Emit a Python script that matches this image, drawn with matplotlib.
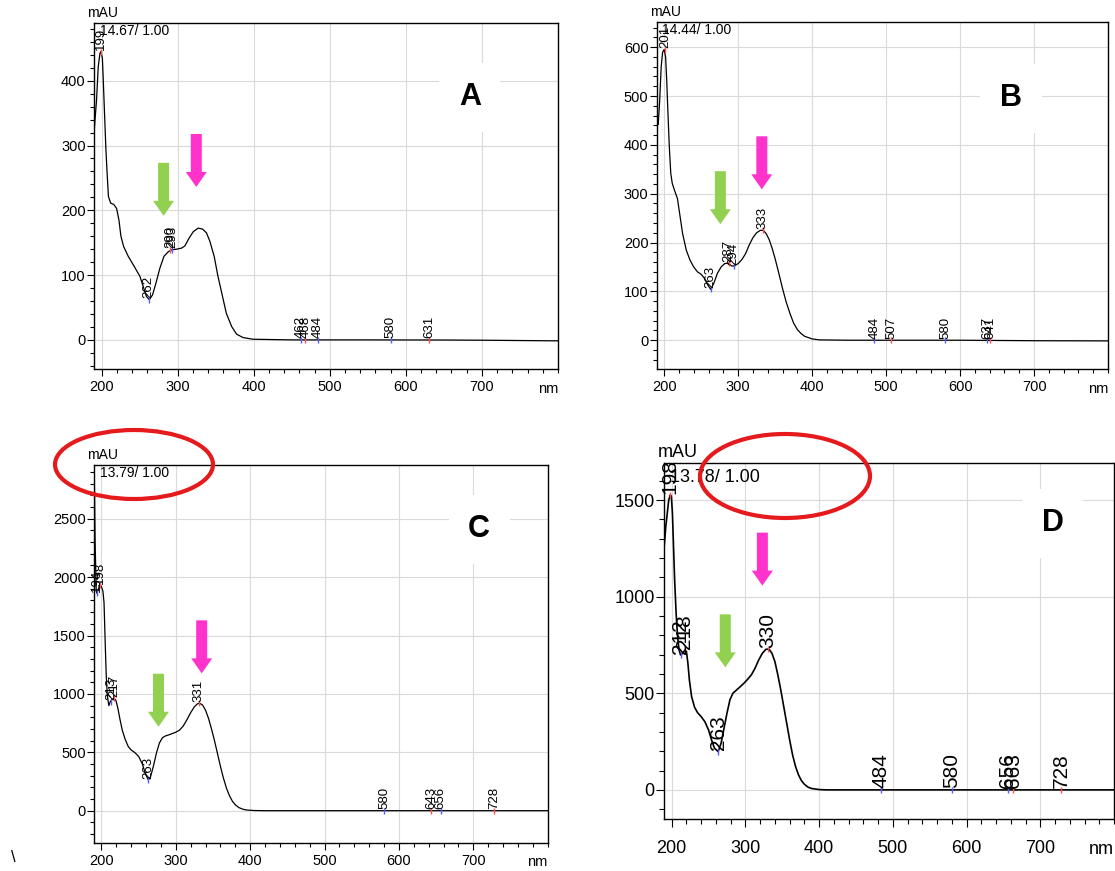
import numpy as np
import matplotlib.pyplot as plt
import matplotlib.transforms as mtransforms
from matplotlib.patches import Polygon, Ellipse
from matplotlib.ticker import MultipleLocator

plt.rcParams['font.family'] = ['Liberation Sans', 'DejaVu Sans']

# ---- spectrum A (14.67 min) ----
wl_a = [190, 193.4, 195.6, 197.8, 199, 201, 202, 204, 205.7, 207.5, 209, 212, 216,
        219.7, 222.8, 225.4, 229, 235, 241.6, 247, 250.4, 254.8, 259, 262.7, 267,
        271.4, 276.7, 282, 287.6, 292, 298.6, 305, 309.5, 315, 320.5, 327, 332.8,
        338, 342.4, 348, 353, 359, 364, 371, 377.5, 386, 399, 450, 550, 650, 700,
        750, 800]
au_a = [319, 371, 422, 442, 445, 435, 407, 345, 293, 252, 221, 211, 209, 203, 185,
        160, 144, 129, 116, 105, 98, 82, 67, 62, 69.5, 87.5, 111, 129, 136, 139, 140,
        141.6, 145, 157, 167, 172.5, 171, 165, 152, 129, 98, 67, 41, 20.6, 8.8, 3.6,
        1, 0, 0, -0.2, -0.5, -1, -1.5]
pk_a = [199, 262, 290, 293, 462, 468, 484, 580, 631]
pky_a = [445, 62, 139, 139, 0, 0, 0, 0, 0]
pkmax_a = [1, 0, 1, 0, 0, 1, 0, 0, 1]

# ---- spectrum B (14.44 min) ----
wl_b = [190, 191, 192, 194, 196, 198, 200, 202, 203.5, 205, 207, 209, 211, 214, 218,
        221, 225, 230, 235, 240, 245, 250, 255, 259, 263, 267, 272, 277, 282, 287,
        291, 295, 300, 305, 310, 315, 320, 325, 330, 334, 338, 342, 346, 350, 355,
        360, 365, 370, 375, 380, 385, 390, 400, 410, 450, 600, 650, 700, 800]
au_b = [471, 450, 442, 491, 560, 590, 595, 580, 532, 471, 396, 341, 321, 307, 290,
        259, 218, 184, 164, 150, 140, 135, 126, 113, 104, 116, 137, 150, 157, 158,
        152, 152, 157, 165, 177, 195, 210, 220, 225, 225, 218, 206, 188, 167, 137,
        106, 78, 55, 35, 22, 13.7, 8, 2.7, 0.7, 0, 0, -0.5, -1, -1.4]
pk_b = [201, 263, 287, 294, 333, 484, 507, 580, 637, 641]
pky_b = [595, 104, 158, 151, 225, 0, 0, 0, 0, 0]
pkmax_b = [1, 0, 1, 0, 1, 0, 1, 0, 0, 1]

# ---- spectrum C (13.79 min) ----
wl_c = [190, 191.5, 193, 194, 196, 198, 200, 202, 203.5, 205, 206.5, 208, 210, 212,
        214.5, 217, 219.5, 222, 225, 228, 232, 236, 240, 245, 250, 255, 259, 263,
        266, 270, 274, 278, 282, 286, 290, 295, 300, 305, 310, 315, 320, 325, 329,
        332, 336, 340, 344, 348, 352, 356, 360, 364, 368, 372, 376, 380, 385, 390,
        395, 405, 420, 800]
au_c = [3100, 2300, 1880, 1861, 1900, 1932, 1920, 1880, 1780, 1450, 1150, 980, 900,
        935, 955, 962, 945, 880, 780, 690, 610, 550, 520, 497, 465, 400, 320, 263,
        290, 385, 495, 580, 625, 640, 648, 660, 672, 690, 725, 780, 840, 890, 915,
        920, 905, 860, 790, 700, 600, 490, 380, 280, 195, 130, 82, 50, 26, 13, 6,
        1.5, 0, 0]
pk_c = [194, 198, 213, 217, 263, 331, 580, 643, 656, 728]
pky_c = [1861, 1932, 935, 962, 263, 920, 0, 0, 0, 0]
pkmax_c = [0, 1, 0, 1, 0, 1, 0, 1, 0, 1]

# ---- spectrum D (13.78 min) ----
wl_d = [190, 192, 194, 196, 198, 199.5, 201, 202.5, 204, 206, 208, 210, 212, 215,
        218, 220, 222, 224, 227, 231, 235, 240, 245, 250, 254, 258, 263, 267, 271,
        275, 279, 283, 288, 293, 298, 303, 308, 313, 318, 323, 328, 332, 336, 340,
        344, 348, 352, 356, 360, 364, 368, 372, 376, 380, 385, 390, 400, 410, 800]
au_d = [1267, 1362, 1431, 1500, 1526, 1521, 1431, 1259, 1086, 914, 793, 724, 698,
        707, 724, 716, 655, 569, 483, 428, 400, 379, 353, 310, 259, 216, 198, 241,
        319, 397, 466, 500, 517, 534, 552, 572, 595, 629, 672, 707, 728, 728, 707,
        664, 595, 517, 431, 345, 259, 181, 121, 78, 48, 29, 14, 7, 1.7, 0, 0]
pk_d = [198, 212, 218, 263, 330, 484, 580, 656, 663, 728]
pky_d = [1526, 698, 724, 198, 728, 0, 0, 0, 0, 0]
pkmax_d = [1, 0, 1, 0, 1, 0, 0, 0, 1, 1]

x_ticks = [200, 300, 400, 500, 600, 700]
x_labels = ['200', '300', '400', '500', '600', '700']
headers = ['14.67/ 1.00', '14.44/ 1.00', '13.79/ 1.00', '13.78/ 1.00']
letters = ['A', 'B', 'C', 'D']
y_ticks = [[0, 100, 200, 300, 400],
           [0, 100, 200, 300, 400, 500, 600],
           [0, 500, 1000, 1500, 2000, 2500],
           [0, 500, 1000, 1500]]
y_labels = [[str(v) for v in t] for t in y_ticks]

GREEN = '#92d050'
PINK = '#ff33cc'
RED = '#e41a1c'


def block_arrow(ax, x, y, color):
    # arrow pointing down, tip at data point (x, y); shape in inches
    shaft, head, hlen, total = 0.055, 0.105, 0.15, 0.53
    verts = [(-shaft, total), (shaft, total), (shaft, hlen), (head, hlen),
             (0, 0), (-head, hlen), (-shaft, hlen)]
    tr = ax.figure.dpi_scale_trans + mtransforms.ScaledTranslation(x, y, ax.transData)
    ax.add_patch(Polygon(verts, closed=True, transform=tr, facecolor=color,
                         edgecolor='none', zorder=5))


def panel(ax, wl, au, pk, pky, pkmax, ylim, yt, ytl, ymin, header, letter,
          lpos, arrows, big=False):
    tfs = 13 if big else 10.5
    hfs = 13 if big else 10
    pfs = 15 if big else 9.5
    ax.plot(wl, au, color='black', lw=1.2 if big else 0.9, zorder=3)
    ax.set_xlim(190, 800)
    ax.set_ylim(*ylim)
    ax.set_xticks(x_ticks)
    ax.set_xticklabels(x_labels, fontsize=tfs)
    ax.set_yticks(yt)
    ax.set_yticklabels(ytl, fontsize=tfs)
    ax.xaxis.set_minor_locator(MultipleLocator(20))
    ax.yaxis.set_minor_locator(MultipleLocator(ymin))
    ax.tick_params(which='major', direction='out', length=6 if big else 5, width=0.8)
    ax.tick_params(which='minor', direction='out', length=3.5 if big else 3, width=0.8)
    ax.tick_params(axis='x', pad=9 if big else 3)
    ax.tick_params(axis='y', pad=1)
    ax.grid(True, which='major', color='#dadada', lw=0.8)
    ax.set_axisbelow(True)
    for s in ax.spines.values():
        s.set_linewidth(1.0)

    for x, y, m in zip(pk, pky, pkmax):
        c = '#ff5050' if m else '#5a5aff'
        ax.plot(x, y, marker='|', color=c, ms=4, mew=1, zorder=4)
        ax.annotate(str(x), (x, y), xytext=(0, 1), textcoords='offset points',
                    rotation=90, ha='center', va='bottom', fontsize=pfs,
                    annotation_clip=False, zorder=6)

    ax.annotate('mAU', (0, 1), xycoords='axes fraction', xytext=(-5, 2),
                textcoords='offset points', ha='left', va='bottom', fontsize=hfs)
    ax.annotate(header, (0, 1), xycoords='axes fraction',
                xytext=(4, -4 if big else -1), textcoords='offset points',
                ha='left', va='top', fontsize=hfs, zorder=2)
    ax.annotate('nm', (1, 0), xycoords='axes fraction',
                xytext=(0, -16 if big else -9), textcoords='offset points',
                ha='right', va='top', fontsize=tfs)
    ax.text(lpos[0], lpos[1], letter, transform=ax.transAxes, ha='center',
            va='center', fontsize=22, fontweight='bold', zorder=4,
            bbox=dict(facecolor='white', edgecolor='none', pad=14))
    block_arrow(ax, arrows[0][0], arrows[0][1], GREEN)
    block_arrow(ax, arrows[1][0], arrows[1][1], PINK)


fig = plt.figure(figsize=(11.15, 8.71), dpi=100)
ax_a = fig.add_axes([0.0843, 0.5763, 0.4161, 0.3972])
ax_b = fig.add_axes([0.5890, 0.5763, 0.4048, 0.3987])
ax_c = fig.add_axes([0.0843, 0.0325, 0.4069, 0.4336])
ax_d = fig.add_axes([0.5958, 0.0594, 0.4033, 0.4087])

panel(ax_a, wl_a, au_a, pk_a, pky_a, pkmax_a, (-45, 489), y_ticks[0], y_labels[0],
      20, headers[0], letters[0], (0.81, 0.786), [(281.5, 191.5), (324.5, 236)])
panel(ax_b, wl_b, au_b, pk_b, pky_b, pkmax_b, (-59, 652), y_ticks[1], y_labels[1],
      20, headers[1], letters[1], (0.785, 0.78), [(276, 237.5), (332, 309)])
panel(ax_c, wl_c, au_c, pk_c, pky_c, pkmax_c, (-274, 2960), y_ticks[2], y_labels[2],
      100, headers[2], letters[2], (0.849, 0.83), [(276.7, 719), (334.8, 1176)])
panel(ax_d, wl_d, au_d, pk_d, pky_d, pkmax_d, (-152, 1690), y_ticks[3], y_labels[3],
      100, headers[3], letters[3], (0.864, 0.832), [(272.7, 634), (323, 1057)],
      big=True)

# red ellipses around the C and D headers
fig.patches.append(Ellipse((134 / 1115, 1 - 464.5 / 871), 158 / 1115, 69 / 871,
                           transform=fig.transFigure, fill=False, edgecolor=RED,
                           lw=3, zorder=10))
fig.patches.append(Ellipse((785 / 1115, 1 - 476 / 871), 170 / 1115, 84 / 871,
                           transform=fig.transFigure, fill=False, edgecolor=RED,
                           lw=3, zorder=10))
fig.text(13 / 1115, 1 - 857 / 871, '\\', fontsize=12, ha='center', va='center')

fig.savefig('out.png', dpi=100)
